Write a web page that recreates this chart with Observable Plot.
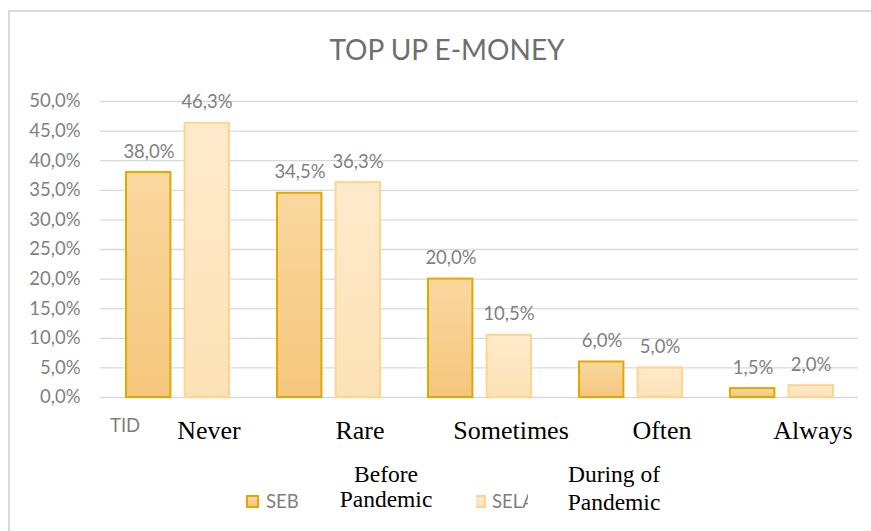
<!DOCTYPE html>
<html>
<head>
<meta charset="utf-8">
<script src="https://cdn.jsdelivr.net/npm/d3@7"></script>
<script src="https://cdn.jsdelivr.net/npm/@observablehq/plot@0.6"></script>
<style>
  html, body { margin: 0; padding: 0; background: #fff; }
  #wrap { position: relative; width: 871px; height: 531px; overflow: hidden; background: #fff; }
  #frame { position: absolute; left: 8px; top: 10px; width: 900px; height: 600px;
           border-top: 2px solid #d9d9d9; border-left: 2px solid #d9d9d9; box-sizing: border-box; }
  #chart { position: absolute; left: 0; top: 0; }
  .gray { position: absolute; font-family: Lato, sans-serif; font-size: 18.5px; line-height: 1; color: #7f7f7f; white-space: nowrap; }
  #title { position: absolute; left: 0; top: 35px; width: 894px; text-align: center; font-family: Lato, sans-serif;
           font-weight: 400; font-size: 28px; line-height: 1; color: #6e6e6e; }
  .serif { position: absolute; font-family: "Liberation Serif", "Times New Roman", serif; font-size: 23.5px; color: #000; text-align: center; white-space: nowrap; }
  .sw { position: absolute; box-sizing: border-box; }
</style>
</head>
<body>
<div id="wrap">
  <div id="frame"></div>
  <div id="chart"></div>
  <div id="title"></div>
  <div class="gray" id="tid" style="left:110px; top:416px;"></div>
  <div class="sw" style="left:246px; top:495px; width:13px; height:13px; border:2px solid #e0a800; background: linear-gradient(#fad8a0,#f5c67c);"></div>
  <div class="gray" id="lg1" style="left:266px; top:492px;"></div>
  <div class="serif" id="lt1" style="left:326px; top:462px; width:120px; line-height:25px;"></div>
  <div class="sw" style="left:476px; top:495px; width:10px; height:13px; border:2px solid #fdd590; border-left:none; background: linear-gradient(#feeacc,#fde2b5);"></div>
  <div class="gray" id="lg2" style="left:492px; top:492px; width:36px; overflow:hidden;"></div>
  <div class="serif" id="lt2" style="left:554px; top:460px; width:120px; line-height:28px;"></div>
</div>
<script>
// ---- data ----
const title = "TOP UP E-MONEY";
const categories = ["Never", "Rare", "Sometimes", "Often", "Always"];
const seriesKeys = ["SEB", "SELA"];
const legendShort = ["SEB", "SELA"];
const legendLabels = ["Before Pandemic", "During of Pandemic"];
const clippedAxisLabel = "TID";
const beforeValues = [38.0, 34.5, 20.0, 6.0, 1.5];
const duringValues = [46.3, 36.3, 10.5, 5.0, 2.0];
const yTicks = [0, 5, 10, 15, 20, 25, 30, 35, 40, 45, 50];

// ---- build table ----
const rowsBefore = categories.map((c, i) => ({category: c, series: seriesKeys[0], value: beforeValues[i]}));
const rowsDuring = categories.map((c, i) => ({category: c, series: seriesKeys[1], value: duringValues[i]}));
const fmt = v => v.toFixed(1).replace(".", ",") + "%";

document.getElementById("title").textContent = title;
document.getElementById("tid").textContent = clippedAxisLabel;
document.getElementById("lg1").textContent = legendShort[0];
document.getElementById("lg2").textContent = legendShort[1];
const splitLabel = s => { const i = s.lastIndexOf(" "); return s.slice(0, i) + "<br>" + s.slice(i + 1); };
document.getElementById("lt1").innerHTML = splitLabel(legendLabels[0]);
document.getElementById("lt2").innerHTML = splitLabel(legendLabels[1]);

const labelFont = {fontFamily: "Lato, sans-serif", fontSize: 18.5, fill: "#7f7f7f"};

const svg = Plot.plot({
  width: 871,
  height: 531,
  marginTop: 101,
  marginBottom: 134,
  marginLeft: 100,
  marginRight: 13,
  style: {background: "transparent", overflow: "visible"},
  x: {domain: categories, padding: 0, axis: null},
  y: {domain: [0, 50], axis: null},
  marks: [
    Plot.ruleY(yTicks, {stroke: "#d9d9d9", strokeWidth: 1.3}),
    Plot.text(yTicks, {y: d => d, frameAnchor: "left", dx: -20, textAnchor: "end", text: fmt, ...labelFont}),
    Plot.barY(rowsBefore, {x: "category", y: "value", fill: "url(#gSEB)", stroke: "#e0a800", strokeWidth: 2, insetLeft: 24, insetRight: 82.6}),
    Plot.barY(rowsDuring, {x: "category", y: "value", fill: "url(#gSELA)", stroke: "#fdd590", strokeWidth: 2, insetLeft: 82.6, insetRight: 24}),
    Plot.text(rowsBefore, {x: "category", y: "value", text: d => fmt(d.value), dx: -29, dy: -15, lineAnchor: "bottom", ...labelFont}),
    Plot.text(rowsDuring, {x: "category", y: "value", text: d => fmt(d.value), dx: 29, dy: -15, lineAnchor: "bottom", ...labelFont}),
    Plot.text(categories, {x: d => d, frameAnchor: "bottom", text: d => d, dx: 31, dy: 33, lineAnchor: "middle",
      fontFamily: "Liberation Serif, Times New Roman, serif", fontSize: 26, fill: "#000"})
  ]
});
svg.insertAdjacentHTML("afterbegin",
  `<defs>
     <linearGradient id="gSEB" x1="0" y1="0" x2="0" y2="1">
       <stop offset="0" stop-color="#fad8a0"/><stop offset="1" stop-color="#f5c67c"/>
     </linearGradient>
     <linearGradient id="gSELA" x1="0" y1="0" x2="0" y2="1">
       <stop offset="0" stop-color="#feeacc"/><stop offset="1" stop-color="#fde2b5"/>
     </linearGradient>
   </defs>`);
document.getElementById("chart").appendChild(svg);
</script>
</body>
</html>
